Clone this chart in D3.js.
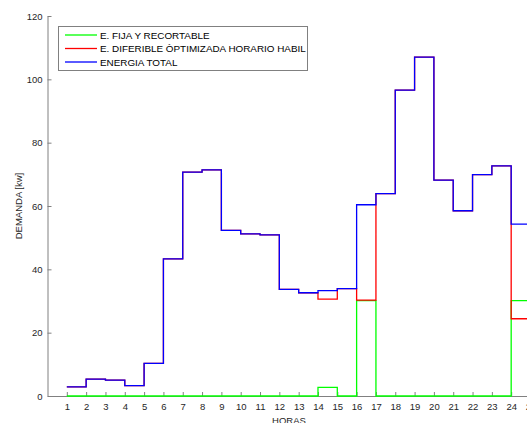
<!DOCTYPE html>
<html>
<head>
<meta charset="utf-8">
<script src="https://cdn.jsdelivr.net/npm/d3@7"></script>
<style>
  html, body { margin: 0; padding: 0; background: #fff; overflow: hidden; }
  svg { display: block; }
  text { font-family: "Liberation Sans", Arial, sans-serif; }
</style>
</head>
<body>
<svg id="chart" width="527" height="423"></svg>
<script>
// hours 1..24, each step holds until the next hour
const hours = d3.range(1, 25)
const fija = [0, 0, 0, 0, 0, 0, 0, 0, 0, 0, 0, 0, 0, 2.7, 0, 30.1, 0, 0, 0, 0, 0, 0, 0, 30.1]
const diferible = [2.9, 5.3, 5.0, 3.3, 10.3, 43.3, 70.7, 71.4, 52.3, 51.2, 50.9, 33.7, 32.6, 30.6, 33.9, 30.3, 63.9, 96.6, 107, 68.2, 58.5, 69.9, 72.7, 24.4]
const total = [2.9, 5.3, 5.0, 3.3, 10.3, 43.3, 70.7, 71.4, 52.3, 51.2, 50.9, 33.7, 32.6, 33.3, 33.9, 60.4, 63.9, 96.6, 107, 68.2, 58.5, 69.9, 72.7, 54.3]
const xTicks = d3.range(1, 26)
const yTicks = [0, 20, 40, 60, 80, 100, 120]

const series = [
    { name: 'E. FIJA Y RECORTABLE', values: fija, color: '#00ff00' },
    { name: 'E. DIFERIBLE ÒPTIMIZADA HORARIO HABIL', values: diferible, color: '#ff0000' },
    { name: 'ENERGIA TOTAL', values: total, color: '#0000ff' }
]

const svg = d3.select('#chart')
const margin = { top: 16, left: 47.5, bottom: 27 }
const plotRight = 530.5
const innerHeight = +svg.attr('height') - margin.top - margin.bottom

const xScale = d3.scaleLinear().domain([0, 25]).range([margin.left, plotRight])
const yScale = d3.scaleLinear().domain([0, 120]).range([margin.top + innerHeight, margin.top])

const axisColor = '#808080'
const textColor = '#262626'

// y axis
const yAxisG = svg.append('g')
    .attr('transform', `translate(${margin.left},0)`)
    .call(d3.axisLeft(yScale).tickValues(yTicks).tickSizeInner(-4).tickSizeOuter(0).tickPadding(5))
yAxisG.select('.domain').attr('stroke', axisColor)
yAxisG.selectAll('.tick line').attr('stroke', axisColor)
yAxisG.selectAll('.tick text').attr('fill', textColor).attr('font-size', 9.5)

// x axis
const xAxisG = svg.append('g')
    .attr('transform', `translate(0,${yScale(0)})`)
    .call(d3.axisBottom(xScale).tickValues(xTicks).tickSizeInner(-4).tickSizeOuter(0).tickPadding(7))
xAxisG.select('.domain').attr('stroke', axisColor)
xAxisG.selectAll('.tick line').attr('stroke', axisColor)
xAxisG.selectAll('.tick text').attr('fill', textColor).attr('font-size', 9.5)

// stairs: horizontal from hour i to i+1
const stairs = d3.line()
    .x(d => xScale(d[0]))
    .y(d => yScale(d[1]))
    .curve(d3.curveStepAfter)

series.forEach(s => {
    const pts = hours.map((h, i) => [h, s.values[i]])
    pts.push([25, s.values[s.values.length - 1]])
    svg.append('path')
        .attr('d', stairs(pts))
        .attr('fill', 'none')
        .attr('stroke', s.color)
        .attr('stroke-width', 1.3)
})

// axis labels
svg.append('text')
    .attr('x', (margin.left + plotRight) / 2)
    .attr('y', 424)
    .attr('text-anchor', 'middle')
    .attr('font-size', 9.5)
    .attr('fill', textColor)
    .text('HORAS')

svg.append('text')
    .attr('transform', `translate(22,${yScale(60)}) rotate(-90)`)
    .attr('text-anchor', 'middle')
    .attr('font-size', 9.5)
    .attr('fill', textColor)
    .text('DEMANDA [kw]')

// legend
const legend = svg.append('g')
legend.append('rect')
    .attr('x', 58.5).attr('y', 26.5)
    .attr('width', 249).attr('height', 44)
    .attr('fill', '#fff')
    .attr('stroke', axisColor)

series.forEach((s, i) => {
    const y = 35 + i * 13.5
    legend.append('line')
        .attr('x1', 65).attr('x2', 97)
        .attr('y1', y).attr('y2', y)
        .attr('stroke', s.color)
        .attr('stroke-width', 1.3)
    legend.append('text')
        .attr('x', 100).attr('y', y + 3.5)
        .attr('font-size', 9.9)
        .attr('fill', '#000')
        .text(s.name)
})
</script>
</body>
</html>
